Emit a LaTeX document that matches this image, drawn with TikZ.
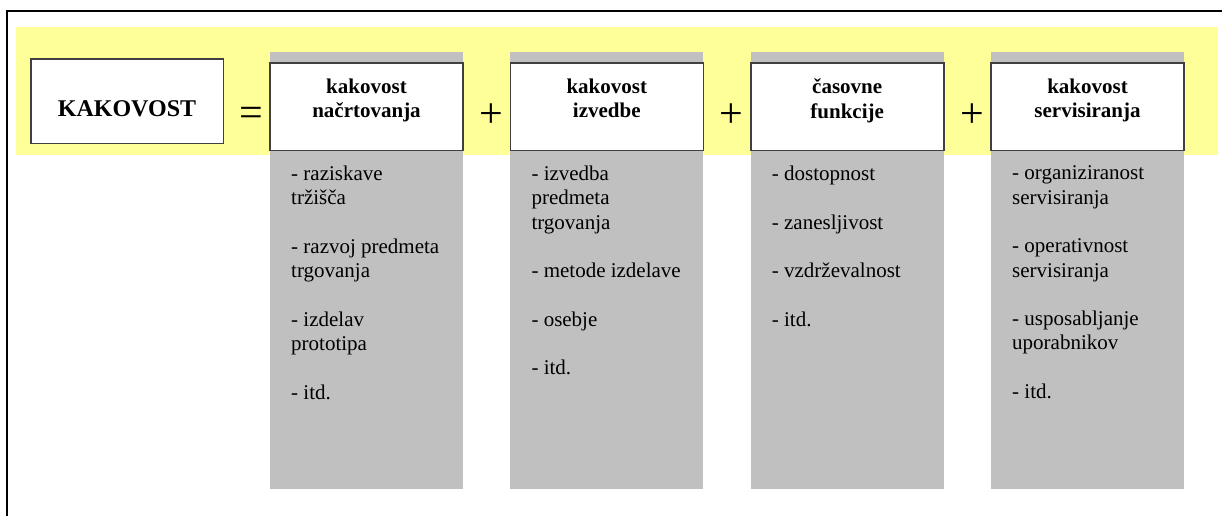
\documentclass[tikz,border=0pt]{standalone}
\usepackage{fontspec}
\setmainfont{Liberation Serif}
\definecolor{bandyellow}{HTML}{FFFF99}
\definecolor{colgray}{HTML}{C0C0C0}
\definecolor{boxline}{HTML}{404040}
\begin{document}
\begin{tikzpicture}[x=1pt,y=-1pt,
  colbg/.style={fill=colgray,draw=none},
  headbox/.style={fill=white,draw=boxline,line width=1.6pt},
  headtext/.style={anchor=north,inner sep=0pt,align=center,font=\fontsize{21}{24.3}\selectfont\bfseries},
  bodytext/.style={anchor=north west,inner sep=0pt,align=left,font=\fontsize{21}{24.3}\selectfont},
  optext/.style={anchor=base,inner sep=0pt,font=\fontsize{42}{48}\selectfont}]
\useasboundingbox (0,0) rectangle (1222,516);
% outer frame (left and top edges only)
\draw[line width=1.6pt,black] (7,516) -- (7,11) -- (1222,11);
% yellow band
\fill[bandyellow] (16,27.3) rectangle (1218.3,155);
% gray columns
\foreach \cx/\nm in {270/c1,510.3/c2,750.7/c3,991/c4}{
  \path[colbg] (\cx,52) rectangle (\cx+193,489);
  \draw[headbox] (\cx,63.3) rectangle (\cx+193,150.3);
}
% KAKOVOST box
\draw[headbox] (31,59.3) rectangle (223.3,143.3);
\node[anchor=base,inner sep=0pt,font=\fontsize{24}{28}\selectfont\bfseries] (kak) at (127,117) {KAKOVOST};
% operators
\node[optext] (eq) at (251.5,126.5) {=};
\node[optext] (p1) at (491.5,127.5) {+};
\node[optext] (p2) at (731.8,127.5) {+};
\node[optext] (p3) at (972.1,127.5) {+};
% headings
\node[headtext] (h1) at (366.5,78.7) {kakovost\\načrtovanja};
\node[headtext] (h2) at (606.8,78.7) {kakovost\\izvedbe};
\node[headtext] (h3) at (847.2,78.7) {časovne\\funkcije};
\node[headtext] (h4) at (1087.5,78.7) {kakovost\\servisiranja};
% bodies
\node[bodytext] (b1) at (291,165.7) {- raziskave\\tržišča\\[24.3pt]- razvoj predmeta\\trgovanja\\[24.3pt]- izdelav\\prototipa\\[24.3pt]- itd.};
\node[bodytext] (b2) at (531.3,165.7) {- izvedba\\predmeta\\trgovanja\\[24.3pt]- metode izdelave\\[24.3pt]- osebje\\[24.3pt]- itd.};
\node[bodytext] (b3) at (771.7,165.7) {- dostopnost\\[24.3pt]- zanesljivost\\[24.3pt]- vzdrževalnost\\[24.3pt]- itd.};
\node[bodytext] (b4) at (1012,165.7) {- organiziranost\\servisiranja\\[24.3pt]- operativnost\\servisiranja\\[24.3pt]- usposabljanje\\uporabnikov\\[24.3pt]- itd.};
\end{tikzpicture}
\end{document}
